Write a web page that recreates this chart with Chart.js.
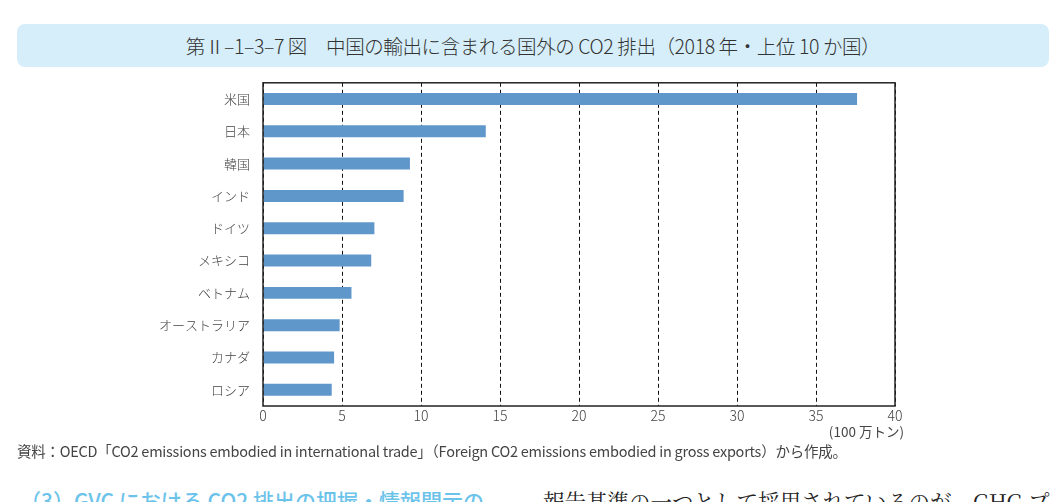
<!DOCTYPE html>
<html lang="ja">
<head>
    <meta charset="UTF-8">
    <title>第Ⅱ-1-3-7図</title>
    <script src="https://cdn.jsdelivr.net/npm/chart.js"></script>
    <style>
        body {
            margin: 0;
            width: 1054px;
            height: 502px;
            overflow: hidden;
            background: #fff;
            position: relative;
            font-family: "Noto Sans CJK JP", "Noto Sans", sans-serif;
            color: #333;
        }
        .title-box {
            position: absolute;
            left: 17px;
            top: 24px;
            width: 1032px;
            height: 43px;
            background: #d6eef9;
            border-radius: 8px;
            display: flex;
            align-items: center;
            justify-content: center;
            font-size: 19.5px;
            font-weight: 300;
            color: #333;
            letter-spacing: -0.4px;
        }
        .chart-wrap {
            position: absolute;
            left: 0;
            top: 70px;
            width: 1054px;
            height: 360px;
        }
        .unit {
            position: absolute;
            right: 150px;
            top: 421px;
            font-size: 13.5px;
            color: #444;
        }
        .source {
            position: absolute;
            left: 17px;
            top: 440px;
            font-size: 14.5px;
            color: #444;
            letter-spacing: -0.25px;
        }
        .next {
            position: absolute;
            top: 485px;
            white-space: nowrap;
        }
        .next.left { left: 20px; color: #6cc3ea; font-size: 21px; font-weight: 500; }
        .next.right { left: 543px; color: #222; font-family: "Noto Serif CJK JP", "DejaVu Serif", serif; font-size: 21.5px; }
    </style>
</head>
<body>
    <div class="title-box">第Ⅱ–1–3–7 図　中国の輸出に含まれる国外の CO2 排出（2018 年・上位 10 か国）</div>
    <div class="chart-wrap"><canvas id="co2Chart"></canvas></div>
    <div class="unit">(100 万トン)</div>
    <div class="source">資料：OECD「CO2 emissions embodied in international trade」（Foreign CO2 emissions embodied in gross exports）から作成。</div>
    <div class="next left">（3）GVC における CO2 排出の把握・情報開示の</div>
    <div class="next right">報告基準の一つとして採用されているのが、GHG プ</div>
    <script>
        // countries, top 10 (million tonnes CO2)
        const countries = ['米国', '日本', '韓国', 'インド', 'ドイツ', 'メキシコ', 'ベトナム', 'オーストラリア', 'カナダ', 'ロシア'];
        const emissions = [37.6, 14.1, 9.3, 8.9, 7.05, 6.85, 5.6, 4.85, 4.5, 4.35];
        const xMin = 0;
        const xMax = 40;
        const xStep = 5;

        // solid box round the plot area
        const frame = {
            id: 'frame',
            afterDraw(chart) {
                const a = chart.chartArea;
                const ctx = chart.ctx;
                ctx.save();
                ctx.strokeStyle = '#222';
                ctx.lineWidth = 1.5;
                ctx.setLineDash([]);
                ctx.strokeRect(a.left, a.top, a.right - a.left, a.bottom - a.top);
                ctx.restore();
            }
        };

        const ctx = document.getElementById('co2Chart').getContext('2d');
        new Chart(ctx, {
            type: 'bar',
            data: {
                labels: countries,
                datasets: [{
                    data: emissions,
                    backgroundColor: '#6097cb',
                    borderWidth: 0,
                    barPercentage: 0.37,
                    categoryPercentage: 1
                }]
            },
            options: {
                indexAxis: 'y',
                responsive: true,
                maintainAspectRatio: false,
                animation: false,
                layout: {
                    padding: { top: 2, right: 159, bottom: 0, left: 0 }
                },
                plugins: {
                    legend: { display: false },
                    tooltip: { enabled: false }
                },
                scales: {
                    x: {
                        min: xMin,
                        max: xMax,
                        ticks: {
                            stepSize: xStep,
                            color: '#444',
                            padding: 1,
                            font: { family: '"Noto Sans CJK JP"', size: 14, weight: 300 }
                        },
                        grid: {
                            color: '#111',
                            lineWidth: 1,
                            drawTicks: false
                        },
                        border: { display: false, dash: [4, 3] },
                        afterFit(scale) { scale.height = 24; }
                    },
                    y: {
                        ticks: {
                            color: '#444',
                            padding: 5,
                            font: { family: '"Noto Sans CJK JP"', size: 13, weight: 300 }
                        },
                        grid: { display: false },
                        border: { display: false },
                        afterFit(scale) { scale.width = 263; }
                    }
                }
            },
            plugins: [frame]
        });
    </script>
</body>
</html>
